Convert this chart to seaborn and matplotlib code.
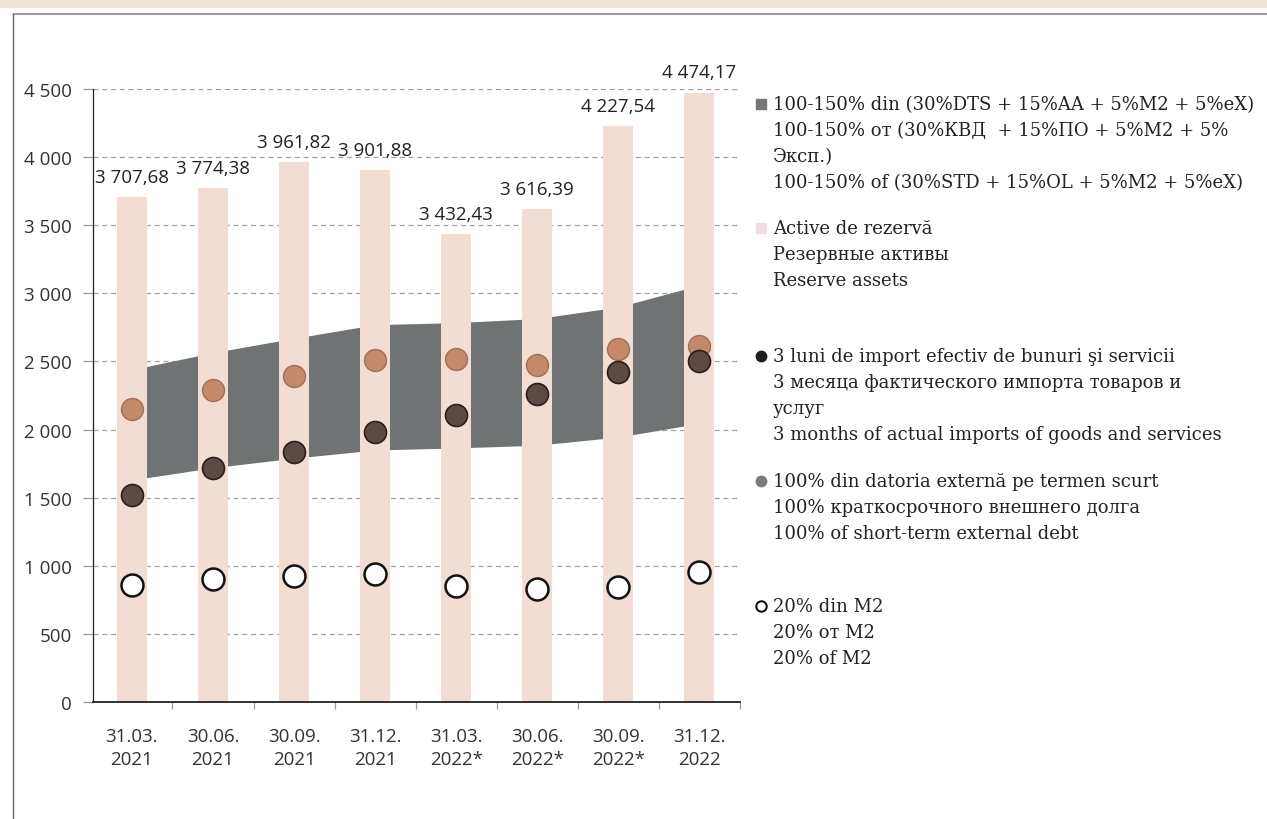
import numpy as np
import matplotlib
matplotlib.use("Agg")
import matplotlib.pyplot as plt
from matplotlib.patches import Rectangle
from matplotlib.lines import Line2D
import seaborn as sns

sns.set_theme(style="white")
plt.rcParams['font.family'] = ['Open Sans', 'DejaVu Sans']

# Data (millions USD)
dates = ["31.03.\n2021", "30.06.\n2021", "30.09.\n2021", "31.12.\n2021",
         "31.03.\n2022*", "30.06.\n2022*", "30.09.\n2022*", "31.12.\n2022"]
reserves = [3707.68, 3774.38, 3961.82, 3901.88, 3432.43, 3616.39, 4227.54, 4474.17]
ara_low = [1630, 1720, 1790, 1850, 1865, 1885, 1945, 2045]    # 100%
ara_high = [2440, 2565, 2670, 2770, 2785, 2815, 2900, 3060]   # 150%
imports_3m = [1520, 1718, 1835, 1982, 2107, 2261, 2423, 2504]
st_debt = [2151, 2291, 2394, 2511, 2518, 2474, 2592, 2614]
m2_20 = [862, 903, 925, 940, 852, 830, 844, 954]
yticks = [0, 500, 1000, 1500, 2000, 2500, 3000, 3500, 4000, 4500]

W, H = 1267, 820
fig = plt.figure(figsize=(W / 100, H / 100), dpi=100)
fig.patch.set_facecolor("white")

# page decorations: beige header strip and frame lines
fig.add_artist(Rectangle((0, 1 - 9 / H), 1, 9 / H, transform=fig.transFigure,
                         facecolor="#f1e4d8", edgecolor="none"))
fig.add_artist(Line2D([13 / W, 1], [1 - 15 / H] * 2, transform=fig.transFigure,
                      color="#8a8a8a", lw=1.2))
fig.add_artist(Line2D([13 / W] * 2, [0, 1 - 15 / H], transform=fig.transFigure,
                      color="#6a6a6a", lw=1.0))

ax = fig.add_axes([93 / W, 1 - 703 / H, (740 - 93) / W, (703 - 90) / H])
pos = np.arange(len(dates))

# ARA band (100-150%)
ax.fill_between(pos, ara_low, ara_high, color="#6f7373", lw=0, zorder=1)

# reserve assets bars
sns.barplot(x=dates, y=reserves, color="#f2ddd5", width=0.37, saturation=1,
            linewidth=0, ax=ax, zorder=2)

# indicators
sns.scatterplot(x=pos, y=st_debt, s=250, color="#c48a68", edgecolor="#a06e55",
                linewidth=1.0, ax=ax, zorder=4)
sns.scatterplot(x=pos, y=imports_3m, s=250, color="#5e4a45", edgecolor="#2a2020",
                linewidth=1.2, ax=ax, zorder=5)
sns.scatterplot(x=pos, y=m2_20, s=250, color="white", edgecolor="#111111",
                linewidth=1.8, ax=ax, zorder=5)

# bar labels
for i, v in enumerate(reserves):
    txt = f"{v:,.2f}".replace(",", " ").replace(".", ",")
    ax.annotate(txt, (i, v), xytext=(0, 8), textcoords="offset points",
                ha="center", va="bottom", fontsize=13.5, color="#222222",
                annotation_clip=False)

# axes styling
ax.set_xlim(-0.48, 7.5)
ax.set_ylim(0, 4500)
ax.set_yticks(yticks)
ax.set_yticklabels([f"{t:,}".replace(",", " ") for t in yticks])
ax.set_xlabel("")
ax.set_ylabel("")
ax.set_axisbelow(True)
ax.yaxis.grid(True, linestyle=(0, (4, 3)), color="#a0a0a0", lw=0.9)
ax.xaxis.grid(False)
for s in ["top", "right"]:
    ax.spines[s].set_visible(False)
ax.spines["left"].set_color("#222222")
ax.spines["left"].set_linewidth(0.9)
ax.spines["bottom"].set_color("#222222")
ax.spines["bottom"].set_linewidth(1.3)
ax.tick_params(axis="y", which="major", left=True, length=7, width=0.9,
               color="#999999", pad=8, labelsize=13.5, labelcolor="#333333")
ax.tick_params(axis="x", which="major", bottom=False, length=0, pad=18,
               labelsize=13.5, labelcolor="#333333")
for lbl in ax.get_xticklabels():
    lbl.set_linespacing(1.35)
ax.set_xticks(pos + 0.5, minor=True)
ax.tick_params(axis="x", which="minor", bottom=True, length=5, width=0.9,
               color="#999999")

# legend drawn in pixel coordinates
lax = fig.add_axes([0, 0, 1, 1], zorder=10)
lax.set_xlim(0, W)
lax.set_ylim(H, 0)
lax.axis("off")
lax.patch.set_alpha(0)

serif = ["DejaVu Serif"]
groups = [
    (105, "s", "#777777", "#777777", 1, [
        "100-150% din (30%DTS + 15%AA + 5%M2 + 5%eX)",
        "100-150% от (30%КВД  + 15%ПО + 5%M2 + 5%",
        "Эксп.)",
        "100-150% of (30%STD + 15%OL + 5%M2 + 5%eX)"]),
    (229, "s", "#efdde0", "#efdde0", 1, [
        "Active de rezervă",
        "Резервные активы",
        "Reserve assets"]),
    (357, "o", "#1e1e1e", "#1e1e1e", 1, [
        "3 luni de import efectiv de bunuri şi servicii",
        "3 месяца фактического импорта товаров и",
        "услуг",
        "3 months of actual imports of goods and services"]),
    (482, "o", "#7a7a7a", "#7a7a7a", 1, [
        "100% din datoria externă pe termen scurt",
        "100% краткосрочного внешнего долга",
        "100% of short-term external debt"]),
    (607, "o", "white", "#111111", 1.5, [
        "20% din M2",
        "20% от M2",
        "20% of M2"]),
]
for y0, mk, fc, ec, lw, lines in groups:
    lax.plot([761], [y0], marker=mk, markersize=7.5, markerfacecolor=fc,
             markeredgecolor=ec, markeredgewidth=lw, linestyle="none")
    for k, line in enumerate(lines):
        lax.text(773, y0 + 26 * k, line, family=serif, fontsize=13,
                 color="#222222", va="center", ha="left")

fig.savefig("out.png", dpi=100)
